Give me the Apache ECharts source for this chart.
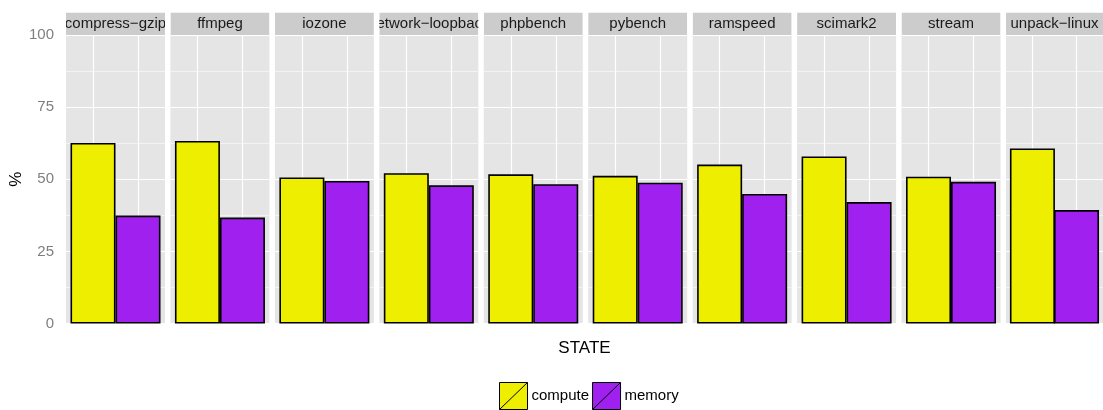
<!DOCTYPE html>
<html>
<head>
<meta charset="utf-8">
<script src="https://cdn.jsdelivr.net/npm/echarts@6/dist/echarts.min.js"></script>
<style>
  html, body { margin: 0; padding: 0; background: #ffffff; }
  #chart { width: 1103px; height: 410px; }
</style>
</head>
<body>
<div id="chart"></div>
<script>
// Benchmarks (one panel each) and the share of each state, in percent
const facets = ['compress−gzip', 'ffmpeg', 'iozone', 'network−loopback', 'phpbench',
                'pybench', 'ramspeed', 'scimark2', 'stream', 'unpack−linux'];
const states = ['compute', 'memory'];
const compute = [62.6, 63.3, 50.6, 52.1, 51.7, 51.2, 55.1, 57.9, 50.9, 60.7];
const memory  = [37.4, 36.7, 49.4, 47.9, 48.3, 48.8, 44.9, 42.1, 49.1, 39.3];
const yTicks = [0, 25, 50, 75, 100];

// Layout of the facet panels
const FONT = '"Liberation Sans", Arial, Helvetica, sans-serif';
const PANEL_LEFT = 66, PANEL_W = 99, PANEL_STEP = 104.44;
const PANEL_TOP = 35, PANEL_H = 288.5, STRIP_H = 22.5;
const X_MIN = 0.4, X_MAX = 2.6;           // discrete x with 0.6 padding on each side
const BAR_W = PANEL_W / (X_MAX - X_MIN);  // bars are one x unit wide
const COLORS = { compute: '#EEEE00', memory: '#A020F0' };

const grids = [], xAxes = [], yAxes = [], series = [];

facets.forEach((name, i) => {
  grids.push({
    left: PANEL_LEFT + i * PANEL_STEP, top: PANEL_TOP, width: PANEL_W, height: PANEL_H,
    show: true, backgroundColor: '#E5E5E5', borderWidth: 0
  });
  xAxes.push({
    gridIndex: i, type: 'value', min: X_MIN, max: X_MAX,
    axisLine: { show: false },
    axisTick: { show: false, customValues: [1, 2] },
    axisLabel: { show: false },
    splitLine: { show: true, lineStyle: { color: '#FFFFFF', width: 1.2 } }
  });
  yAxes.push({
    gridIndex: i, type: 'value',
    min: yTicks[0], max: yTicks[yTicks.length - 1], interval: yTicks[1] - yTicks[0],
    axisLine: { show: false }, axisTick: { show: false },
    axisLabel: { show: i === 0, color: '#7F7F7F', fontSize: 15, fontFamily: FONT, margin: 12 },
    splitLine: { show: true, lineStyle: { color: '#FFFFFF', width: 1.2 } },
    minorTick: { show: false, splitNumber: 2 },
    minorSplitLine: { show: true, lineStyle: { color: '#F3F3F3', width: 1 } },
    name: i === 0 ? '%' : '', nameLocation: 'middle', nameRotate: 90, nameGap: 40,
    nameTextStyle: { color: '#000000', fontSize: 17, fontFamily: FONT }
  });

  // one bar per state, both centred on their own x position
  series.push({
    type: 'bar', name: 'compute', xAxisIndex: i, yAxisIndex: i,
    data: [[1, compute[i]]], barWidth: BAR_W, barGap: '-100%',
    itemStyle: { color: COLORS.compute, borderColor: '#000000', borderWidth: 1.6 }
  });
  series.push({
    type: 'bar', name: 'memory', xAxisIndex: i, yAxisIndex: i,
    data: [[2, memory[i]]], barWidth: BAR_W, barGap: '-100%',
    itemStyle: { color: COLORS.memory, borderColor: '#000000', borderWidth: 1.6 }
  });

  // facet strip above the panel, text clipped to the strip
  series.push({
    type: 'custom', xAxisIndex: i, yAxisIndex: i, silent: true, z: 5,
    data: [[1.5, 100]],
    renderItem: (params) => {
      const cs = params.coordSys;
      const w = cs.width, h = STRIP_H;
      return {
        type: 'group', x: cs.x, y: cs.y - h,
        clipPath: { type: 'rect', shape: { x: 0, y: 0, width: w, height: h } },
        children: [
          { type: 'rect', shape: { x: 0, y: 0, width: w, height: h }, style: { fill: '#CCCCCC' } },
          { type: 'text', x: w / 2, y: h / 2 + 0.5,
            style: { text: name, fill: '#1A1A1A', font: '15px ' + FONT,
                     align: 'center', verticalAlign: 'middle' } }
        ]
      };
    }
  });
});

// shared x-axis title spanning all panels
const n = facets.length;
grids.push({ left: PANEL_LEFT, top: PANEL_TOP, width: (n - 1) * PANEL_STEP + PANEL_W, height: PANEL_H, show: false });
xAxes.push({
  gridIndex: n, type: 'value', min: 0, max: 1,
  axisLine: { show: false }, axisTick: { show: false }, axisLabel: { show: false }, splitLine: { show: false },
  name: 'STATE', nameLocation: 'middle', nameGap: 16,
  nameTextStyle: { color: '#000000', fontSize: 17, fontFamily: FONT }
});
yAxes.push({ gridIndex: n, type: 'value', show: false, min: 0, max: 1 });

const chart = echarts.init(document.getElementById('chart'), null, { renderer: 'canvas' });
chart.setOption({
  animation: false,
  textStyle: { fontFamily: FONT },
  grid: grids,
  xAxis: xAxes,
  yAxis: yAxes,
  legend: {
    data: states, left: 499, top: 382, orient: 'horizontal', padding: 0,
    itemWidth: 28, itemHeight: 27, itemGap: 3,
    icon: 'path://M0,0H28V27H0Z M0,27L28,0',
    itemStyle: { borderColor: '#000000', borderWidth: 1 },
    textStyle: { color: '#000000', fontSize: 15, fontFamily: FONT, padding: [0, 0, 0, -1] }
  },
  series: series
});
</script>
</body>
</html>
